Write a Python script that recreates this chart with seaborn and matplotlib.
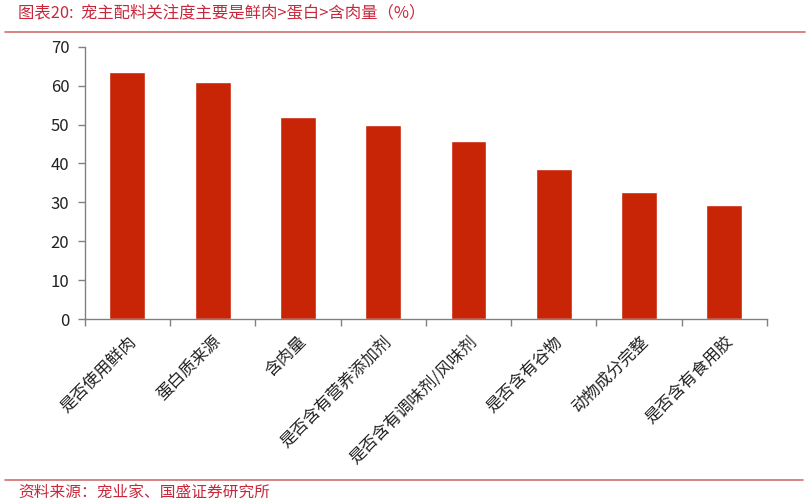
import matplotlib
matplotlib.use("Agg")
import matplotlib.pyplot as plt
import seaborn as sns
import pandas as pd
from matplotlib.lines import Line2D

categories = ["是否使用鲜肉", "蛋白质来源", "含肉量", "是否含有营养添加剂",
              "是否含有调味剂/风味剂", "是否含有谷物", "动物成分完整", "是否含有食用胶"]
values = [63.6, 61.0, 52.0, 49.9, 45.8, 38.6, 32.7, 29.3]
yticks = [0, 10, 20, 30, 40, 50, 60, 70]
title = "图表20:  宠主配料关注度主要是鲜肉>蛋白>含肉量（%）"
source = "资料来源：宠业家、国盛证券研究所"

sns.set_theme(style="white")
plt.rcParams['font.family'] = ['Noto Sans CJK SC', 'DejaVu Sans']

df = pd.DataFrame({"cat": categories, "val": values})

fig = plt.figure(figsize=(8.11, 5.04), dpi=100)
ax = fig.add_axes([84.7/811, 1-319/504, (767-84.7)/811, (319-46.7)/504])
sns.barplot(data=df, x="cat", y="val", color="#C82406", width=0.42,
            saturation=1, ax=ax)
ax.set_xlim(-0.5, len(categories)-0.5)
ax.set_ylim(0, 70)
ax.set_yticks(yticks)
ax.set_yticklabels([str(v) for v in yticks], fontsize=12, color="#222222")
ax.set_xlabel("")
ax.set_ylabel("")
ax.set_xticks([i for i in range(len(categories))])
ax.set_xticklabels(categories, rotation=45, ha="right", rotation_mode="anchor",
                   fontsize=12, color="#222222")
ax.tick_params(axis="x", length=0, pad=10)
# boundary ticks on x axis
ax.set_xticks([i - 0.5 for i in range(len(categories)+1)], minor=True)
ax.tick_params(axis="x", which="minor", length=5, color="#808080", width=1, direction="out", bottom=True)
ax.tick_params(axis="y", length=5, color="#808080", width=1, direction="out", left=True, pad=6)
for s in ["top", "right"]:
    ax.spines[s].set_visible(False)
for s in ["left", "bottom"]:
    ax.spines[s].set_color("#808080")
    ax.spines[s].set_linewidth(1)

red = "#C8283C"
fig.text(18/811, 1-14/504, title, fontsize=11.8, color=red, style="italic",
         va="center", ha="left")
fig.add_artist(Line2D([5/811, 805/811], [1-32/504, 1-32/504], color="#D07070", lw=1.2))
fig.add_artist(Line2D([5/811, 803/811], [1-480/504, 1-480/504], color="#D07070", lw=1.2))
fig.text(18/811, 1-492/504, source, fontsize=11.3, color=red, style="italic",
         va="center", ha="left")

fig.savefig("out.png", dpi=100)
